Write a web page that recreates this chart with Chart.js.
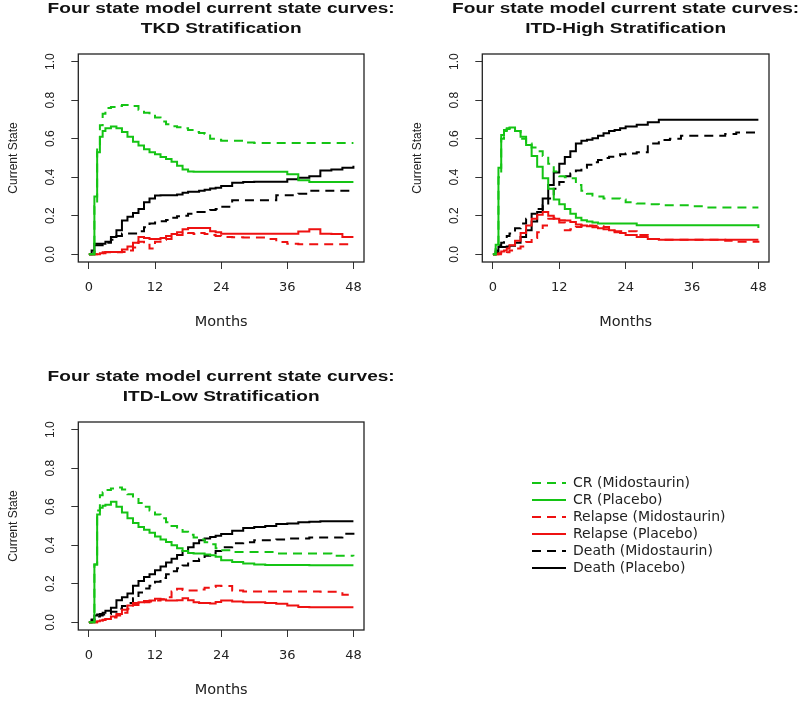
<!DOCTYPE html>
<html>
<head>
<meta charset="utf-8">
<script src="https://cdn.jsdelivr.net/npm/chart.js@4.4.1/dist/chart.umd.min.js"></script>
<style>
  html, body { margin: 0; padding: 0; background: #fff; overflow: hidden; width: 800px; height: 701px; }
  .panel { position: absolute; }
</style>
</head>
<body>
<div class="panel" style="left:0px; top:-2px;"><canvas id="tkdChart" width="400" height="342"></canvas></div>
<div class="panel" style="left:400px; top:-2px;"><canvas id="highChart" width="400" height="342"></canvas></div>
<div class="panel" style="left:0px; top:366px;"><canvas id="lowChart" width="400" height="342"></canvas></div>
<div class="panel" style="left:529px; top:473px;"><canvas id="legendChart" width="250" height="120"></canvas></div>
<script>
// time grid (months) shared by every curve
const months = [0, 0.5, 1, 1.5, 2, 2.5, 3, 4, 5, 6, 7, 8, 9, 10, 11, 12, 13, 14, 15, 16, 17, 18, 19, 20, 21, 22, 23, 24, 26, 28, 30, 32, 34, 36, 38, 40, 42, 44, 46, 48];
const xTicks = [0, 12, 24, 36, 48];
const yTicks = [0, 0.2, 0.4, 0.6, 0.8, 1.0];

const seriesNames = ["CR (Midostaurin)", "CR (Placebo)", "Relapse (Midostaurin)", "Relapse (Placebo)", "Death (Midostaurin)", "Death (Placebo)"];

// TKD stratification
const tkdCrMido = [0,0,.25,.55,.67,.73,.76,.765,.77,.775, .775,.77,.75,.735,.72,.71,.69,.675,.665,.66, .655,.645,.635,.63,.625,.6,.595,.59,.59,.58, .578,.578,.578,.578,.578,.578,.578,.578,.578,.578];
const tkdCrPlac = [0,0,.3,.53,.61,.64,.655,.663,.655,.635, .61,.585,.565,.545,.53,.52,.505,.495,.48,.46, .44,.43,.428,.428,.428,.428,.428,.428,.428,.428, .428,.428,.428,.415,.385,.375,.375,.375,.375,.375];
const tkdRelMido = [0,0,0,0,0,.005,.01,.01,.01,.012, .02,.035,.065,.05,.03,.065,.075,.08,.09,.1, .115,.11,.105,.11,.105,.1,.095,.09,.088,.087, .087,.08,.064,.055,.052,.052,.052,.052,.052,.05];
const tkdRelPlac = [0,0,0,0,.005,.01,.012,.012,.012,.025, .04,.06,.09,.085,.08,.08,.085,.095,.105,.115, .13,.137,.137,.137,.137,.12,.115,.107,.107,.107, .107,.107,.107,.107,.118,.13,.107,.105,.09,.09];
const tkdDeathMido = [0,0,.047,.047,.047,.05,.06,.075,.095,.108, .108,.108,.12,.14,.16,.165,.172,.178,.19,.197, .2,.21,.22,.22,.225,.23,.235,.247,.28,.28, .28,.28,.307,.307,.315,.33,.33,.33,.33,.33];
const tkdDeathPlac = [0,.02,.055,.055,.055,.055,.065,.09,.125,.175, .195,.215,.235,.27,.29,.305,.307,.307,.307,.31, .32,.325,.325,.33,.335,.342,.345,.355,.372,.375, .377,.377,.377,.39,.397,.405,.435,.44,.45,.46];

// ITD-High stratification
const highCrMido = [0,.05,.4,.6,.64,.65,.655,.64,.6,.575, .555,.535,.51,.47,.43,.405,.4,.395,.36,.33, .315,.305,.3,.29,.29,.29,.285,.27,.264,.26, .255,.255,.255,.25,.243,.243,.243,.243,.243,.243];
const highCrPlac = [0,.05,.45,.62,.645,.655,.658,.64,.61,.568, .51,.455,.395,.34,.285,.26,.235,.21,.19,.177, .17,.165,.16,.16,.16,.16,.16,.16,.151,.151, .151,.151,.151,.151,.151,.151,.151,.151,.151,.137];
const highRelMido = [0,0,0,0,0,.01,.02,.03,.04,.064, .085,.115,.15,.185,.19,.165,.125,.13,.142,.15, .15,.148,.145,.142,.13,.12,.12,.12,.1,.08, .075,.075,.075,.075,.075,.075,.07,.065,.065,.07];
const highRelPlac = [0,0,.005,.015,.02,.03,.047,.07,.11,.15, .185,.205,.22,.2,.185,.177,.175,.168,.155,.15, .145,.14,.135,.13,.125,.115,.11,.1,.09,.08, .075,.075,.075,.075,.075,.075,.075,.075,.075,.075];
const highDeathMido = [0,.02,.047,.06,.08,.095,.108,.135,.16,.185, .21,.235,.255,.29,.34,.375,.405,.42,.435,.45, .465,.478,.49,.5,.507,.51,.52,.524,.53,.575, .594,.6,.616,.616,.616,.616,.625,.633,.633,.633];
const highDeathPlac = [0,.01,.038,.038,.038,.04,.045,.06,.09,.125, .17,.22,.29,.36,.425,.47,.505,.535,.575,.59, .595,.602,.615,.628,.64,.646,.655,.663,.672,.685, .698,.698,.698,.698,.698,.698,.698,.698,.698,.698];

// ITD-Low stratification
const lowCrMido = [0,0,.3,.58,.66,.675,.687,.695,.7,.69, .665,.64,.62,.6,.58,.56,.54,.52,.5,.485, .47,.455,.44,.43,.415,.405,.385,.374,.365,.365, .365,.365,.357,.357,.357,.357,.357,.345,.345,.343];
const lowCrPlac = [0,0,.3,.56,.595,.605,.61,.626,.6,.57, .54,.515,.495,.48,.465,.445,.43,.417,.4,.385, .37,.36,.357,.357,.352,.348,.34,.322,.313,.305, .3,.298,.298,.298,.298,.296,.296,.296,.296,.296];
const lowRelMido = [0,0,0,.005,.009,.012,.017,.025,.035,.05, .07,.09,.104,.104,.108,.113,.12,.13,.16,.174, .168,.165,.165,.17,.18,.183,.19,.188,.165,.16, .16,.16,.16,.16,.16,.16,.158,.158,.143,.14];
const lowRelPlac = [0,0,0,.005,.009,.013,.017,.03,.043,.065, .087,.1,.104,.11,.113,.122,.118,.113,.113,.115, .125,.115,.104,.1,.1,.098,.105,.113,.108,.104, .104,.1,.096,.087,.08,.078,.078,.078,.078,.078];
const lowDeathMido = [0,.01,.026,.03,.035,.04,.043,.055,.07,.085, .1,.125,.155,.175,.19,.21,.23,.25,.265,.28, .295,.305,.318,.33,.345,.36,.37,.39,.41,.415, .426,.426,.43,.435,.435,.44,.44,.44,.46,.47];
const lowDeathPlac = [0,.015,.035,.04,.043,.05,.06,.075,.115,.13, .15,.19,.215,.235,.25,.27,.29,.31,.33,.35, .37,.39,.41,.426,.435,.443,.45,.458,.475,.49, .495,.5,.51,.513,.52,.522,.525,.525,.525,.525];

const green = "#14c414";
const red = "#ee1111";
const black = "#000000";
const lineColors = [green, green, red, red, black, black];
const dashed = [9, 6];

// box round the plot region + two line title centred over it (R style)
const panelPlugin = {
  id: "panelDeco",
  afterDraw(chart, args, opts) {
    const a = chart.chartArea;
    const ctx = chart.ctx;
    ctx.save();
    ctx.strokeStyle = "#222";
    ctx.lineWidth = 1.3;
    ctx.strokeRect(a.left, a.top, a.right - a.left, a.bottom - a.top);

    // the original figure is stretched sideways, so widen the title text too
    const sx = 1.36;
    ctx.translate((a.left + a.right) / 2, 0);
    ctx.scale(sx, 1);
    ctx.fillStyle = "#111";
    ctx.font = "bold 14px 'Liberation Sans', Arial, sans-serif";
    ctx.textAlign = "center";
    ctx.textBaseline = "alphabetic";
    opts.lines.forEach((line, i) => ctx.fillText(line, 0, 14.7 + i * 20.6));
    ctx.restore();
  }
};

function buildDatasets(values) {
  return values.map((vals, i) => ({
    label: seriesNames[i],
    data: vals ? months.map((m, j) => ({ x: m, y: vals[j] })) : [],
    borderColor: lineColors[i],
    backgroundColor: lineColors[i],
    borderWidth: 2,
    borderDash: i % 2 === 0 ? dashed : [],
    pointRadius: 0,
    stepped: true,
    fill: false
  }));
}

function makePanel(id, subtitle, values, padLeft, padRight) {
  const ctx = document.getElementById(id).getContext("2d");
  return new Chart(ctx, {
    type: "line",
    data: { datasets: buildDatasets(values) },
    options: {
      responsive: false,
      animation: false,
      devicePixelRatio: 1,
      layout: { padding: { left: padLeft, right: padRight, top: 56, bottom: 5 } },
      plugins: {
        legend: { display: false },
        tooltip: { enabled: false },
        panelDeco: { lines: ["Four state model current state curves:", subtitle] }
      },
      scales: {
        x: {
          type: "linear",
          min: -1.92,
          max: 49.92,
          afterBuildTicks: (axis) => { axis.ticks = xTicks.map(v => ({ value: v })); },
          border: { display: false },
          grid: { drawOnChartArea: false, drawTicks: true, tickLength: 7, color: "#333" },
          ticks: {
            padding: 11,
            color: "#222",
            font: { family: "'DejaVu Sans', sans-serif", size: 13 }
          },
          title: {
            display: true,
            text: "Months",
            color: "#222",
            font: { family: "'DejaVu Sans', sans-serif", size: 14.5 },
            padding: { top: 7, bottom: 4 }
          }
        },
        y: {
          type: "linear",
          min: -0.04,
          max: 1.04,
          afterBuildTicks: (axis) => { axis.ticks = yTicks.map(v => ({ value: v })); },
          border: { display: false },
          grid: { drawOnChartArea: false, drawTicks: true, tickLength: 7, color: "#333" },
          ticks: {
            minRotation: 90,
            maxRotation: 90,
            crossAlign: "center",
            padding: 12,
            color: "#222",
            font: { family: "'Liberation Sans', Arial, sans-serif", size: 12 },
            callback: (v) => Number(v).toFixed(1)
          },
          title: {
            display: true,
            text: "Current State",
            color: "#222",
            font: { family: "'Liberation Sans', Arial, sans-serif", size: 12 },
            padding: { top: 6, bottom: 12.5 }
          }
        }
      }
    },
    plugins: [panelPlugin]
  });
}

makePanel("tkdChart", "TKD Stratification",
  [tkdCrMido, tkdCrPlac, tkdRelMido, tkdRelPlac, tkdDeathMido, tkdDeathPlac], 0, 36);
makePanel("highChart", "ITD-High Stratification",
  [highCrMido, highCrPlac, highRelMido, highRelPlac, highDeathMido, highDeathPlac], 4, 31);
makePanel("lowChart", "ITD-Low Stratification",
  [lowCrMido, lowCrPlac, lowRelMido, lowRelPlac, lowDeathMido, lowDeathPlac], 0, 36);

// legend only chart
new Chart(document.getElementById("legendChart").getContext("2d"), {
  type: "line",
  data: { datasets: buildDatasets([null, null, null, null, null, null]) },
  options: {
    responsive: false,
    animation: false,
    devicePixelRatio: 1,
    scales: { x: { display: false }, y: { display: false } },
    plugins: {
      tooltip: { enabled: false },
      legend: {
        display: true,
        position: "top",
        align: "start",
        maxHeight: 120,
        labels: {
          usePointStyle: true,
          pointStyle: "line",
          pointStyleWidth: 34,
          padding: 3,
          color: "#222",
          font: { family: "'DejaVu Sans', sans-serif", size: 14 },
          // keep the dash pattern of each curve in its legend sample
          generateLabels: (chart) => Chart.defaults.plugins.legend.labels.generateLabels(chart).map(item => {
            const ds = chart.data.datasets[item.datasetIndex];
            item.lineDash = ds.borderDash;
            item.strokeStyle = ds.borderColor;
            item.lineWidth = 2;
            return item;
          })
        }
      }
    }
  }
});
</script>
</body>
</html>
